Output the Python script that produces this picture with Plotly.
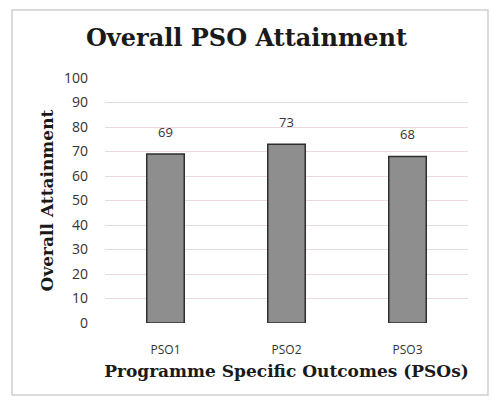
import plotly.graph_objects as go

categories = ["PSO1", "PSO2", "PSO3"]
values = [69, 73, 68]
y_ticks = [0, 10, 20, 30, 40, 50, 60, 70, 80, 90, 100]

fig = go.Figure()
fig.add_trace(go.Bar(
    x=categories, y=values,
    width=0.31,
    marker=dict(color="#8e8e8e", line=dict(color="#2e2e2e", width=1.5)),
    cliponaxis=False,
))
for c, v in zip(categories, values):
    fig.add_annotation(x=c, y=v, text=str(v), showarrow=False, yshift=22,
                       font=dict(family="Open Sans, sans-serif", size=13, color="#333"))

L, R, T, B = 105, 25, 78, 78
W, H = 493, 401
fig.update_layout(
    width=W, height=H,
    margin=dict(l=L, r=R, t=T, b=B),
    paper_bgcolor="white", plot_bgcolor="white",
    showlegend=False,
    title=dict(text="<b>Overall PSO Attainment</b>", x=0.5, xanchor="center",
               y=1 - 38 / H, yanchor="middle",
               font=dict(family="DejaVu Serif, serif", size=24, color="#1a1a1a")),
    xaxis=dict(showgrid=False, showline=False, ticks="",
               tickfont=dict(family="Open Sans, sans-serif", size=12, color="#333"),
               ticklabelstandoff=18,
               title=dict(text="<b>Programme Specific Outcomes (PSOs)</b>", standoff=8,
                          font=dict(family="DejaVu Serif, serif", size=17, color="#1a1a1a"))),
    yaxis=dict(range=[0, 100], tickvals=y_ticks, showgrid=True, gridcolor="#ecd9dc",
               gridwidth=1, zeroline=False, showline=False, ticks="",
               tickfont=dict(family="Open Sans, sans-serif", size=14, color="#333"),
               ticklabelstandoff=16,
               title=dict(text="<b>Overall Attainment</b>", standoff=6,
                          font=dict(family="DejaVu Serif, serif", size=17, color="#1a1a1a"))),
)
# outer chart border
fig.add_shape(type="rect", xref="paper", yref="paper",
              x0=(12 - L) / (W - L - R), x1=(488 - L) / (W - L - R),
              y0=-(395 - (H - B)) / (H - T - B), y1=1 + (T - 10) / (H - T - B),
              line=dict(color="#d0d0d0", width=1.5), fillcolor="rgba(0,0,0,0)", layer="below")

fig.write_html("out.html", config={"displayModeBar": False},
               post_script="document.body.style.margin='0';")
